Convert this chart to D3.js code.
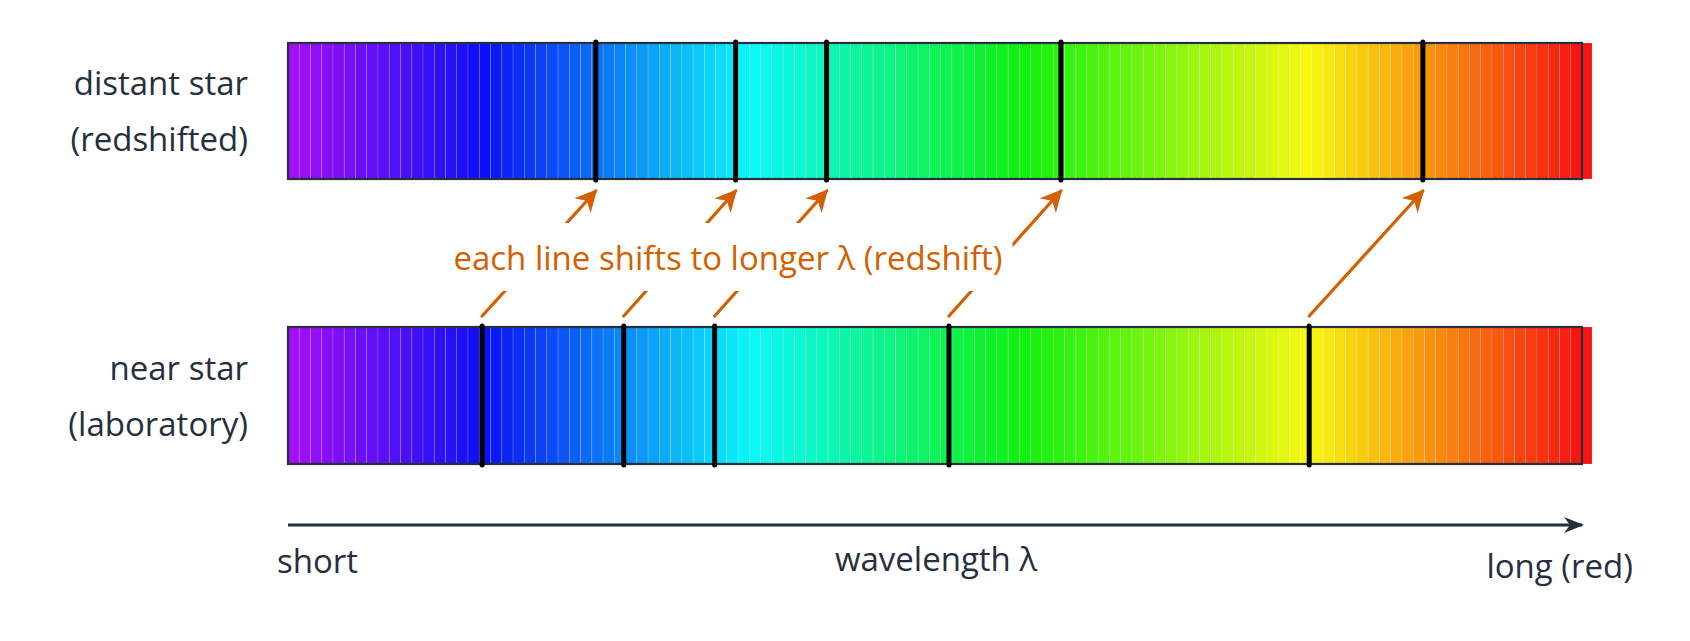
<!DOCTYPE html>
<html><head><meta charset="utf-8">
<script src="https://cdn.jsdelivr.net/npm/d3@7/dist/d3.min.js"></script>
<style>body{margin:0;background:#fff}svg{display:block}</style>
</head><body>
<svg id="c" width="1690" height="641"></svg>
<script>
// data (wavelength in nm, schematic)
const domainNm = [380, 750];
const labLines = [435.5, 476, 502, 569, 672];
const shiftedLines = [468, 508, 534, 601, 704.5];
const colorStopsNm = [380, 436, 513, 590, 672, 750];
const colorStops = ["#a60ff6", "#0c10f4", "#0cf8f8", "#10f010", "#f8f810", "#f81010"];
const rowLabels = [["distant star", "(redshifted)"], ["near star", "(laboratory)"]];
const axisLabels = ["short", "wavelength λ", "long (red)"];
const annotation = "each line shifts to longer λ (redshift)";
const nStrips = 115;

const svg = d3.select("#c");
const x = d3.scaleLinear().domain(domainNm).range([288, 1582]);
const col = d3.scaleLinear().domain(colorStopsNm).range(colorStops).interpolate(d3.interpolateRgb);
const rows = [{y0: 43, y1: 179, lines: shiftedLines}, {y0: 327, y1: 464, lines: labLines}];
const dark = "#252f3d", orange = "#d35f00";
const font = "'Open Sans', Lato, sans-serif";
const fs = 33;

const step = (domainNm[1] - domainNm[0]) / nStrips;
const strips = d3.range(nStrips).map(i => domainNm[0] + i * step);

rows.forEach((r, ri) => {
  const g = svg.append("g");
  g.selectAll("rect.s").data(strips).join("rect")
    .attr("x", d => x(d)).attr("y", r.y0)
    .attr("width", d => x(d + step) - x(d) + (d + step >= domainNm[1] - 1e-6 ? 10 : 0))
    .attr("height", r.y1 - r.y0)
    .attr("fill", d => col(d + step / 2))
    .attr("stroke", "rgba(255,255,255,0.2)").attr("stroke-width", 0.7);
  g.append("rect").attr("x", x(domainNm[0])).attr("y", r.y0)
    .attr("width", x(domainNm[1]) - x(domainNm[0])).attr("height", r.y1 - r.y0)
    .attr("fill", "none").attr("stroke", dark).attr("stroke-width", 2.2);
  g.selectAll("line.l").data(r.lines).join("line")
    .attr("x1", d => x(d)).attr("x2", d => x(d))
    .attr("y1", r.y0 - 1).attr("y2", r.y1 + 1)
    .attr("stroke", "#000").attr("stroke-width", 5).attr("stroke-linecap", "round");
  const t = g.append("text").attr("text-anchor", "end").attr("font-family", font)
    .attr("font-size", fs).attr("fill", dark);
  t.append("tspan").attr("x", 248).attr("y", (r.y0 + r.y1) / 2 - 16).text(rowLabels[ri][0]);
  t.append("tspan").attr("x", 248).attr("y", (r.y0 + r.y1) / 2 + 40).text(rowLabels[ri][1]);
});

// arrows
const defs = svg.append("defs");
defs.append("marker").attr("id", "oa").attr("viewBox", "0 0 10 10").attr("refX", 9).attr("refY", 5)
  .attr("markerWidth", 22).attr("markerHeight", 22).attr("markerUnits", "userSpaceOnUse")
  .attr("orient", "auto")
  .append("path").attr("d", "M0,0 L10,5 L0,10 L3,5 Z").attr("fill", orange);
defs.append("marker").attr("id", "da").attr("viewBox", "0 0 10 10").attr("refX", 9).attr("refY", 5)
  .attr("markerWidth", 20).attr("markerHeight", 20).attr("markerUnits", "userSpaceOnUse").attr("orient", "auto")
  .append("path").attr("d", "M0,1 L10,5 L0,9 L3,5 Z").attr("fill", dark);
const yFrom = rows[1].y0 - 11, yTo = rows[0].y1 + 12;
svg.append("g").selectAll("line").data(labLines.map((d, i) => [d, shiftedLines[i]])).join("line")
  .attr("x1", d => x(d[0])).attr("y1", yFrom).attr("x2", d => x(d[1])).attr("y2", yTo)
  .attr("stroke", orange).attr("stroke-width", 3.2).attr("stroke-linecap", "round")
  .attr("marker-end", "url(#oa)");
// annotation with white band hiding arrow middles
const band = svg.append("rect").attr("fill", "#fff");
const ann = svg.append("text").attr("x", 728).attr("y", 270).attr("text-anchor", "middle")
  .attr("font-family", font).attr("font-size", fs).attr("fill", orange).text(annotation);
const bb = ann.node().getBBox();
band.attr("x", bb.x - 10).attr("y", 223).attr("width", bb.width + 20).attr("height", 291 - 223);

// axis
svg.append("line").attr("x1", x(domainNm[0])).attr("x2", x(domainNm[1])).attr("y1", 525).attr("y2", 525)
  .attr("stroke", dark).attr("stroke-width", 3).attr("marker-end", "url(#da)");
const al = [[277, "start", 573], [936, "middle", 571], [1633, "end", 578]];
svg.selectAll("text.ax").data(axisLabels).join("text").attr("class", "ax")
  .attr("x", (d, i) => al[i][0]).attr("y", (d, i) => al[i][2]).attr("text-anchor", (d, i) => al[i][1])
  .attr("font-family", font).attr("font-size", fs).attr("fill", dark).text(d => d);
</script>
</body></html>
